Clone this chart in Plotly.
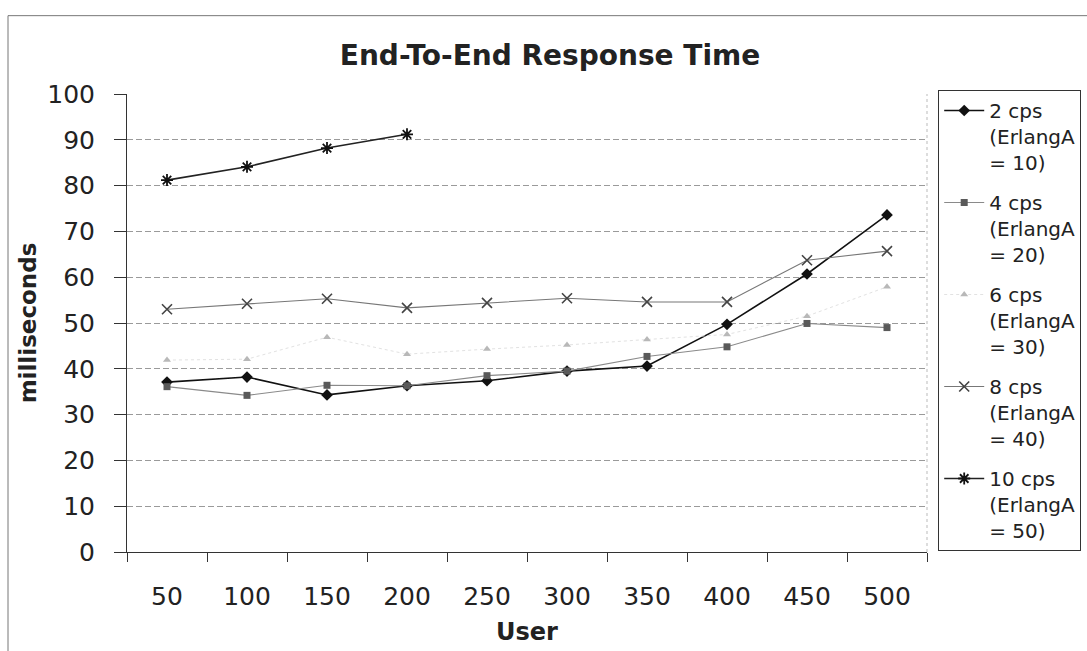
import plotly.graph_objects as go

users = ["50", "100", "150", "200", "250", "300", "350", "400", "450", "500"]
cps2 = [37.1, 38.2, 34.3, 36.3, 37.4, 39.5, 40.6, 49.7, 60.7, 73.6]
cps4 = [36.1, 34.2, 36.4, 36.3, 38.5, 39.5, 42.7, 44.8, 49.9, 49.0]
cps6 = [41.9, 42.1, 46.9, 43.2, 44.3, 45.2, 46.4, 47.5, 51.5, 57.9]
cps8 = [53.0, 54.2, 55.3, 53.3, 54.4, 55.4, 54.6, 54.6, 63.7, 65.7]
cps10 = [81.2, 84.1, 88.2, 91.2]
users10 = users[:4]

names = [
    "2 cps<br>(ErlangA<br>= 10)",
    "4 cps<br>(ErlangA<br>= 20)",
    "6 cps<br>(ErlangA<br>= 30)",
    "8 cps<br>(ErlangA<br>= 40)",
    "10 cps<br>(ErlangA<br>= 50)",
]

FONT = "DejaVu Sans"
TXT = "#222222"

fig = go.Figure()
fig.add_trace(go.Scatter(
    x=users, y=cps2, name=names[0], mode="lines+markers", legendgroup="a",
    line=dict(color="#111111", width=1.6),
    marker=dict(symbol="diamond", size=9, color="#111111")))
fig.add_trace(go.Scatter(
    x=users, y=cps4, name=names[1], mode="lines+markers", legendgroup="b",
    line=dict(color="#8a8a8a", width=1.1),
    marker=dict(symbol="square", size=7, color="#5a5a5a")))
fig.add_trace(go.Scatter(
    x=users, y=cps6, name=names[2], mode="lines+markers", legendgroup="c",
    line=dict(color="#e2e2e2", width=1, dash="dot"),
    marker=dict(symbol="triangle-up", size=7, color="#b8b8b8")))
fig.add_trace(go.Scatter(
    x=users, y=cps8, name=names[3], mode="lines+markers", legendgroup="d",
    line=dict(color="#777777", width=1.1),
    marker=dict(symbol="x-thin-open", size=10, color="#444444",
                line=dict(width=1.6, color="#444444"))))
fig.add_trace(go.Scatter(
    x=users10, y=cps10, name=names[4], mode="lines+markers", legendgroup="e",
    line=dict(color="#222222", width=1.6),
    marker=dict(symbol="asterisk-open", size=10, color="#111111",
                line=dict(width=1.8, color="#111111"))))

fig.update_layout(
    width=1087, height=651,
    margin=dict(l=127, r=160, t=93.5, b=98.5, autoexpand=False),
    paper_bgcolor="white", plot_bgcolor="white",
    font=dict(family=FONT, color=TXT),
    title=dict(text="<b>End-To-End Response Time</b>", x=(550 - 127) / 800,
               xref="paper", xanchor="center", y=0.915, yanchor="middle",
               font=dict(family=FONT, size=28, color=TXT)),
    showlegend=True,
    legend=dict(x=1.014, xanchor="left", y=1 - 90 / 651, yref="container",
                yanchor="top", maxheight=600,
                bordercolor="#333333", borderwidth=1, bgcolor="white",
                font=dict(family=FONT, size=20, color=TXT),
                valign="top", tracegroupgap=11, itemwidth=40,
                traceorder="grouped"),
    xaxis=dict(type="category", range=[-0.5, 9.5], tickson="boundaries",
               ticks="outside",
               ticklen=9, tickcolor="#333", showline=True, linecolor="#333",
               linewidth=1, showgrid=False, ticklabelstandoff=22,
               tickfont=dict(family=FONT, size=25, color=TXT),
               title=dict(text="<b>User</b>", standoff=13,
                          font=dict(family=FONT, size=24, color=TXT))),
    yaxis=dict(range=[0, 100], dtick=10, ticks="outside", ticklen=12,
               tickcolor="#333", showline=True, linecolor="#333",
               linewidth=1, showgrid=True, gridcolor="#9a9a9a",
               griddash="6px,3px", gridwidth=1, zeroline=False,
               ticklabelstandoff=14,
               tickfont=dict(family=FONT, size=25, color=TXT),
               title=dict(text="<b>milliseconds</b>", standoff=4,
                          font=dict(family=FONT, size=23, color=TXT))),
    shapes=[
        dict(type="line", xref="paper", yref="paper", x0=1, x1=1, y0=0, y1=1,
             line=dict(color="#bbbbbb", width=1, dash="dot")),
        dict(type="rect", xref="paper", yref="paper",
             x0=(8 - 127) / 800, x1=(1095 - 127) / 800,
             y0=(552.5 - 660) / 459, y1=(552.5 - 15) / 459,
             line=dict(color="#777777", width=1), layer="below"),
    ],
)

fig.write_html("out.html")
